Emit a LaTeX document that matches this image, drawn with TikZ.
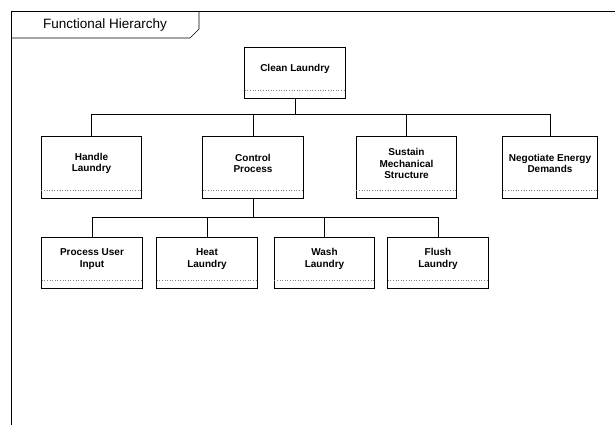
\documentclass[tikz,border=0pt]{standalone}
\usepackage{fontspec}
\setmainfont{Liberation Sans}
\usepackage{tikz}
\tikzset{
  func/.style={minimum width=100pt, inner sep=0pt, align=center, font=\bfseries\fontsize{10}{11.7}\selectfont},
  boxline/.style={line width=0.7pt},
  divider/.style={gray, dotted, line width=0.6pt},
  link/.style={line width=1pt}
}

\begin{document}
\begin{tikzpicture}[x=1pt, y=-1pt]
\useasboundingbox (0,0) rectangle (615,425);

% frame and tab
\draw[line width=1pt] (11,425) -- (11,12) -- (615,12);
\draw[boxline] (11,38) -- (190,38) -- (199,29) -- (199,12);
\node[font=\fontsize{13.5}{16}\selectfont] (title) at (105,25) {Functional Hierarchy};

\begin{scope}[every node/.style={func, minimum height=42pt}]
\node (clean) at (295,69) {Clean Laundry};
\end{scope}

\begin{scope}[every node/.style={func, minimum height=53pt}]
\node (handle) at (91.5,163.5) {Handle\\Laundry};
\node (control) at (253,163.5) {Control\\Process};
\node (sustain) at (406.5,163.5) {Sustain\\Mechanical\\Structure};
\node[minimum width=94pt] (negotiate) at (550,163.5) {Negotiate Energy\\Demands};
\end{scope}

\begin{scope}[every node/.style={func, minimum height=42pt}]
\node (input) at (92,259) {Process User\\Input};
\node (heat) at (207,259) {Heat\\Laundry};
\node (wash) at (324.5,259) {Wash\\Laundry};
\node (flush) at (438,259) {Flush\\Laundry};
\end{scope}

% outlines with dotted divider and bottom strip
\foreach \n in {clean,handle,control,sustain,negotiate,input,heat,wash,flush} {
  \draw[boxline] (\n.north west) rectangle ([yshift=-8.5pt]\n.south east);
  \draw[divider] (\n.south west) -- (\n.south east);
}

% connectors
\coordinate (bus1) at (0,115);
\coordinate (bus2) at (0,217);
\foreach \c in {handle,control,sustain,negotiate}
  \draw[link] ([yshift=-8.5pt]clean.south) -- (bus1 -| clean) -| (\c.north);
\foreach \c in {input,heat,wash,flush}
  \draw[link] ([yshift=-8.5pt]control.south) -- (bus2 -| control) -| (\c.north);
\end{tikzpicture}
\end{document}
